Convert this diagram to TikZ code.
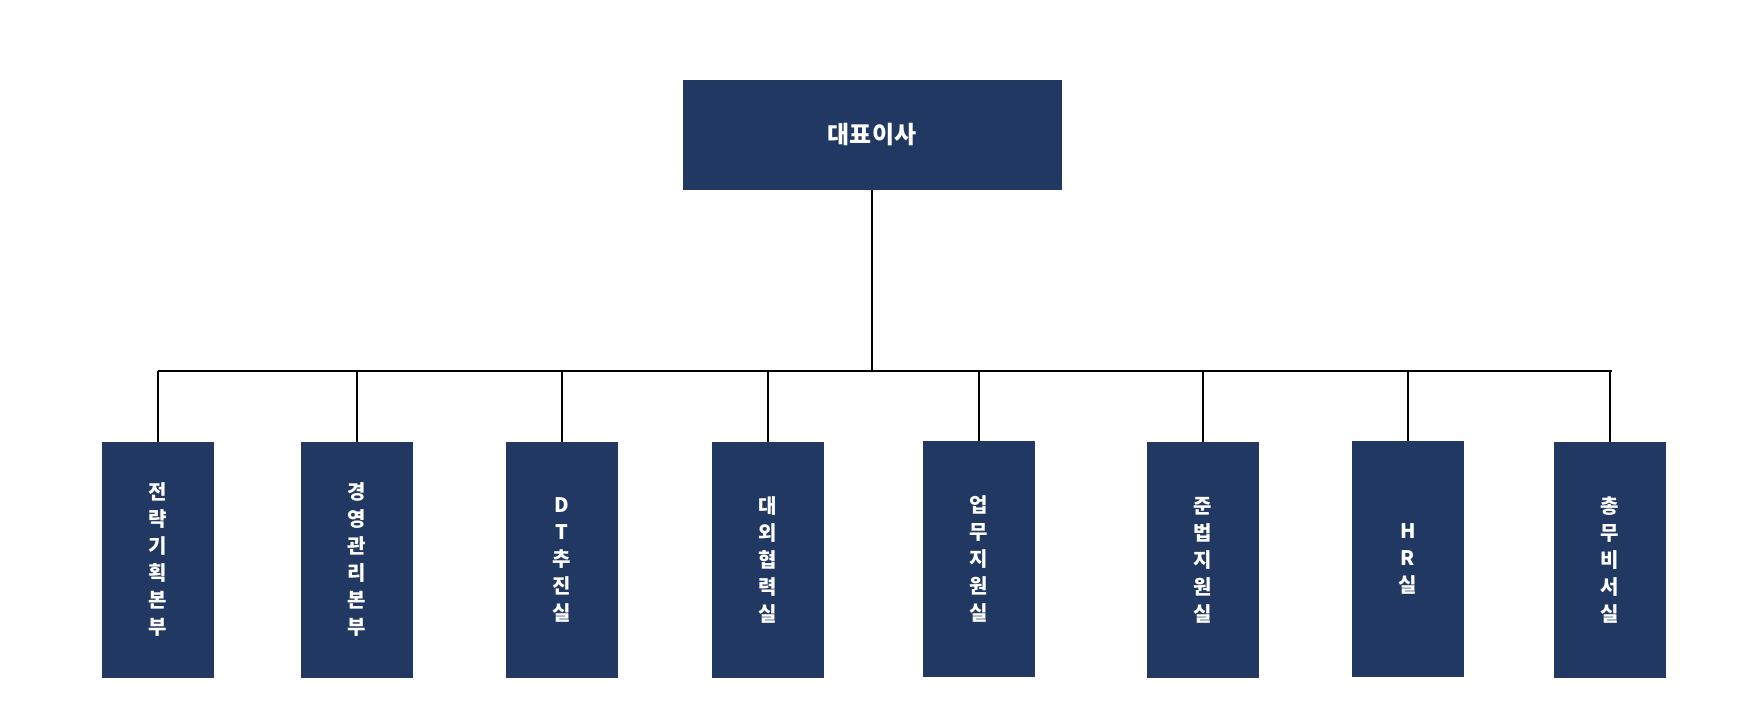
\documentclass[tikz,border=0pt]{standalone}
\usepackage{fontspec}
\usepackage{xcolor}
\usetikzlibrary{positioning}
\newfontfamily\kofont{Noto Sans CJK KR}
\definecolor{navy}{RGB}{33,56,98}

\begin{document}
\begin{tikzpicture}[
            x=0.5pt, y=-0.5pt,
            head/.style={rectangle, minimum width=189.5pt, minimum height=55pt, fill=navy, text=white, font=\kofont\bfseries\fontsize{12}{14}\selectfont},
            dept/.style={rectangle, minimum width=56pt, minimum height=117.5pt, fill=navy, text=white, align=center, font=\kofont\bfseries\fontsize{10}{13.5}\selectfont},
            link/.style={line width=0.6pt, black}
        ]
        \useasboundingbox (0,0) rectangle (1752,716);

        \node[head] (ceo) at (872,135) {대표이사};

        \node[dept] (strategy) at (158,560) {전\\략\\기\\획\\본\\부};
        \node[dept] (mgmt) at (357,560) {경\\영\\관\\리\\본\\부};
        \node[dept] (dt) at (562,560) {D\\T\\추\\진\\실};
        \node[dept] (ext) at (768,560) {대\\외\\협\\력\\실};
        \node[dept] (ops) at (979,559) {업\\무\\지\\원\\실};
        \node[dept] (comp) at (1203,560) {준\\법\\지\\원\\실};
        \node[dept] (hr) at (1408,559) {H\\R\\실};
        \node[dept] (sec) at (1610,560) {총\\무\\비\\서\\실};

        \coordinate (busL) at (158,371);
        \coordinate (busR) at (1612,371);
        \coordinate (busM) at (872,371);

        \draw[link] (ceo.south) -- (busM);
        \draw[link, line width=1pt] (busL) -- (busR);
        \foreach \d in {strategy,mgmt,dt,ext,ops,comp,hr,sec}
            \draw[link] (\d.north) -- (\d.north |- busM);

        \end{tikzpicture}
\end{document}
